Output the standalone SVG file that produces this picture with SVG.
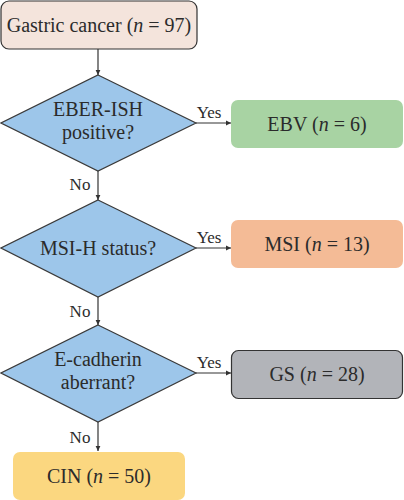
<svg xmlns="http://www.w3.org/2000/svg" width="404" height="500" viewBox="0 0 404 500">
<defs>
<marker id="ah" markerWidth="6" markerHeight="6" refX="5" refY="3" orient="auto" markerUnits="userSpaceOnUse">
<path d="M0,0.6 L5,3 L0,5.4 Z" fill="#333"/>
</marker>
<style>
text{font-family:"Liberation Serif","Times New Roman",serif;fill:#2b2b2b;text-anchor:middle}
.t{font-size:20px}
.l{font-size:17px}
.d{fill:#9dc6ea;stroke:#3a3a3a;stroke-width:1.2}
.c{stroke:#333;stroke-width:1.2;fill:none;marker-end:url(#ah)}
</style>
</defs>
<rect width="404" height="500" fill="#fff"/>
<g id="connectors">
<line class="c" x1="98" y1="49" x2="98" y2="75"/>
<line class="c" x1="98" y1="171" x2="98" y2="200"/>
<line class="c" x1="98" y1="297" x2="98" y2="325"/>
<line class="c" x1="98" y1="422" x2="98" y2="451"/>
<line class="c" x1="196" y1="123" x2="231" y2="123"/>
<line class="c" x1="196" y1="248" x2="231" y2="248"/>
<line class="c" x1="196" y1="373" x2="231" y2="373"/>
<text class="l" x="209" y="118">Yes</text>
<text class="l" x="209" y="243">Yes</text>
<text class="l" x="209" y="368">Yes</text>
<text class="l" x="80" y="190">No</text>
<text class="l" x="80" y="317">No</text>
<text class="l" x="80" y="443">No</text>
</g>
<g id="start">
<rect x="1" y="1" width="196" height="48" rx="8" fill="#f4e4dc" stroke="#333" stroke-width="1.2"/>
<text class="t" x="99" y="32">Gastric cancer (<tspan font-style="italic">n</tspan> = 97)</text>
</g>
<g id="q1">
<polygon class="d" points="98,75 196,123 98,171 1,123"/>
<text class="t" x="98" y="116">EBER-ISH</text>
<text class="t" x="98" y="139">positive?</text>
</g>
<g id="ebv">
<rect x="231" y="100" width="172" height="48" rx="7" fill="#a8d3a3"/>
<text class="t" x="317" y="131">EBV (<tspan font-style="italic">n</tspan> = 6)</text>
</g>
<g id="q2">
<polygon class="d" points="98,200 196,248 98,297 1,248"/>
<text class="t" x="98" y="255">MSI-H status?</text>
</g>
<g id="msi">
<rect x="231" y="220" width="172" height="48" rx="7" fill="#f4bb96"/>
<text class="t" x="317" y="251">MSI (<tspan font-style="italic">n</tspan> = 13)</text>
</g>
<g id="q3">
<polygon class="d" points="98,325 196,373 98,422 1,373"/>
<text class="t" x="98" y="366">E-cadherin</text>
<text class="t" x="98" y="389">aberrant?</text>
</g>
<g id="gs">
<rect x="231.5" y="350.5" width="171" height="48" rx="7" fill="#b2b4b9" stroke="#333" stroke-width="1.2"/>
<text class="t" x="317" y="381">GS (<tspan font-style="italic">n</tspan> = 28)</text>
</g>
<g id="cin">
<rect x="13" y="452" width="172" height="48" rx="7" fill="#fbd780"/>
<text class="t" x="99" y="483">CIN (<tspan font-style="italic">n</tspan> = 50)</text>
</g>
</svg>
